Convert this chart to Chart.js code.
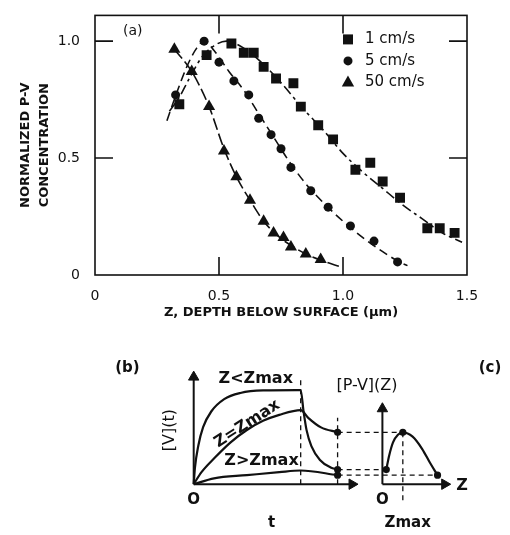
<!DOCTYPE html>
<html>
<head>
<meta charset="utf-8">
<script src="https://cdn.jsdelivr.net/npm/chart.js@4.4.1/dist/chart.umd.min.js"></script>
<style>
  html, body { margin: 0; padding: 0; background: #fff; }
  #wrapTop { position: absolute; left: 0; top: 0; width: 510px; height: 330px; }
  #wrapBottom { position: absolute; left: 0; top: 330px; width: 510px; height: 205px; }
</style>
</head>
<body>
<div id="wrapTop"><canvas id="chartTop" width="510" height="330"></canvas></div>
<div id="wrapBottom"><canvas id="chartBottom" width="510" height="205"></canvas></div>
<script>
/* ============================================================
 * DATA (a): normalized P-V concentration vs depth
 * ============================================================ */
const SERIES = ["1 cm/s", "5 cm/s", "50 cm/s"];
const X_TICKS = [0, 0.5, 1.0, 1.5];
const Y_TICKS = [0, 0.5, 1.0];
const X_TITLE = "Z, DEPTH BELOW SURFACE (\u03bcm)";
const Y_TITLE = ["NORMALIZED P-V", "CONCENTRATION"];

// 1 cm/s (squares)
const SQ_X = [0.34, 0.45, 0.55, 0.60, 0.64, 0.68, 0.73, 0.80, 0.83, 0.90, 0.96, 1.05, 1.11, 1.16, 1.23, 1.34, 1.39, 1.45];
const SQ_Y = [0.73, 0.94, 0.99, 0.95, 0.95, 0.89, 0.84, 0.82, 0.72, 0.64, 0.58, 0.45, 0.48, 0.40, 0.33, 0.20, 0.20, 0.18];
// 5 cm/s (circles)
const CI_X = [0.325, 0.44, 0.50, 0.56, 0.62, 0.66, 0.71, 0.75, 0.79, 0.87, 0.94, 1.03, 1.125, 1.22];
const CI_Y = [0.77, 1.00, 0.91, 0.83, 0.77, 0.67, 0.60, 0.54, 0.46, 0.36, 0.29, 0.21, 0.145, 0.056];
// 50 cm/s (triangles)
const TR_X = [0.32, 0.39, 0.46, 0.52, 0.57, 0.625, 0.68, 0.72, 0.76, 0.79, 0.85, 0.91];
const TR_Y = [0.965, 0.87, 0.72, 0.53, 0.42, 0.32, 0.23, 0.18, 0.16, 0.12, 0.09, 0.066];

// fitted curves
const FIT1_X = [0.30, 0.34, 0.38, 0.43, 0.48, 0.53, 0.60, 0.68, 0.76, 0.84, 0.92, 1.00, 1.08, 1.16, 1.24, 1.32, 1.40, 1.48];
const FIT1_Y = [0.70, 0.76, 0.84, 0.93, 0.98, 1.00, 0.97, 0.90, 0.81, 0.71, 0.62, 0.52, 0.44, 0.37, 0.30, 0.24, 0.18, 0.14];
const FIT5_X = [0.29, 0.33, 0.37, 0.41, 0.44, 0.48, 0.54, 0.60, 0.66, 0.72, 0.78, 0.85, 0.92, 1.00, 1.08, 1.16, 1.22, 1.26];
const FIT5_Y = [0.66, 0.78, 0.89, 0.97, 1.00, 0.96, 0.87, 0.79, 0.69, 0.59, 0.49, 0.39, 0.31, 0.23, 0.16, 0.10, 0.06, 0.04];
const FIT50_X = [0.32, 0.39, 0.46, 0.52, 0.57, 0.625, 0.68, 0.74, 0.80, 0.86, 0.92, 0.99];
const FIT50_Y = [0.965, 0.87, 0.72, 0.54, 0.42, 0.32, 0.23, 0.165, 0.12, 0.085, 0.06, 0.035];

/* ============================================================
 * DATA (b)/(c): schematic, arbitrary units
 * ============================================================ */
const T_LT = [0, 0.012, 0.043, 0.088, 0.164, 0.285, 0.436, 0.648, 0.966, 1.0, 1.027, 1.055, 1.10, 1.18, 1.28, 1.345];
const V_LT = [0, 0.176, 0.405, 0.60, 0.765, 0.895, 0.96, 0.987, 0.99, 0.99, 0.765, 0.569, 0.40, 0.255, 0.176, 0.154];
const T_EQ = [0, 0.073, 0.194, 0.345, 0.497, 0.648, 0.80, 1.0, 1.073, 1.19, 1.345];
const V_EQ = [0, 0.127, 0.275, 0.44, 0.57, 0.667, 0.73, 0.78, 0.696, 0.598, 0.546];
const T_GT = [0, 0.19, 0.497, 0.80, 1.0, 1.345];
const V_GT = [0, 0.062, 0.095, 0.127, 0.144, 0.095];
const Z_C = [0.19, 0.33, 0.52, 0.76, 1.0, 1.48, 1.95, 2.33, 2.70];
const V_C = [0.154, 0.30, 0.44, 0.52, 0.546, 0.50, 0.37, 0.225, 0.095];

const T_PULSE = 1.0;     // end of pulse
const T_READ = 1.345;    // read-out time
const READ_Z = -2.19;    // read-out line in (c) units
const READ_V = [0.546, 0.154, 0.095];
const READ_Z_END = [1.0, 0.19, 2.70];

const INK = "#111";
const FONT = "'DejaVu Sans', 'Liberation Sans', sans-serif";

const pts = (xs, ys) => xs.map((x, i) => ({ x, y: ys[i] }));
const fmtTick = (v) => (v === 0 ? "0" : Number(v).toFixed(1));

/* ============================================================
 * (a) plugins: frame with inward ticks, legend, panel label
 * ============================================================ */
const frameTicks = {
  id: "frameTicks",
  afterDraw(chart) {
    const { ctx, chartArea: a, scales } = chart;
    const len = 18;
    ctx.save();
    ctx.strokeStyle = INK;
    ctx.lineWidth = 1.6;
    ctx.strokeRect(a.left, a.top, a.right - a.left, a.bottom - a.top);
    ctx.beginPath();
    X_TICKS.slice(1, -1).forEach((v) => {
      const px = scales.x.getPixelForValue(v);
      ctx.moveTo(px, a.bottom); ctx.lineTo(px, a.bottom - len);
      ctx.moveTo(px, a.top); ctx.lineTo(px, a.top + len);
    });
    Y_TICKS.slice(1).forEach((v) => {
      const py = scales.y.getPixelForValue(v);
      ctx.moveTo(a.left, py); ctx.lineTo(a.left + len, py);
      ctx.moveTo(a.right, py); ctx.lineTo(a.right - len, py);
    });
    ctx.stroke();

    // panel label
    ctx.fillStyle = INK;
    ctx.font = "14px " + FONT;
    ctx.textBaseline = "middle";
    ctx.fillText("(a)", a.left + 28, a.top + 16);
    ctx.restore();
  },
};

function drawMarker(ctx, style, x, y) {
  ctx.beginPath();
  if (style === "rect") {
    ctx.rect(x - 5, y - 5, 10, 10);
  } else if (style === "circle") {
    ctx.arc(x, y, 4.5, 0, Math.PI * 2);
  } else {
    ctx.moveTo(x, y - 7);
    ctx.lineTo(x + 6.2, y + 4);
    ctx.lineTo(x - 6.2, y + 4);
    ctx.closePath();
  }
  ctx.fill();
}

const legendInside = {
  id: "legendInside",
  afterDraw(chart) {
    const { ctx, chartArea: a } = chart;
    const styles = ["rect", "circle", "triangle"];
    ctx.save();
    ctx.fillStyle = INK;
    ctx.font = "15px " + FONT;
    ctx.textBaseline = "middle";
    SERIES.forEach((s, i) => {
      const y = a.top + 24 + i * 21.5;
      drawMarker(ctx, styles[i], a.left + 253, y);
      ctx.fillText(s, a.left + 270, y);
    });
    ctx.restore();
  },
};

const markerSet = (label, xs, ys, style, r) => ({
  label, data: pts(xs, ys), pointStyle: style, pointRadius: r,
  backgroundColor: INK, borderColor: INK, borderWidth: 0, showLine: false,
});
const fitSet = (xs, ys, dash) => ({
  label: "fit", data: pts(xs, ys), showLine: true, pointRadius: 0,
  borderColor: INK, borderWidth: 1.6, borderDash: dash,
  cubicInterpolationMode: "monotone", fill: false,
});

new Chart(document.getElementById("chartTop"), {
  type: "scatter",
  data: {
    datasets: [
      markerSet(SERIES[0], SQ_X, SQ_Y, "rect", 7),
      markerSet(SERIES[1], CI_X, CI_Y, "circle", 4.5),
      markerSet(SERIES[2], TR_X, TR_Y, "triangle", 7),
      fitSet(FIT1_X, FIT1_Y, [10, 4, 3, 4]),
      fitSet(FIT5_X, FIT5_Y, [9, 5]),
      fitSet(FIT50_X, FIT50_Y, [12, 4]),
    ],
  },
  options: {
    responsive: false,
    animation: false,
    layout: { padding: { top: 13, right: 43, bottom: 10, left: 0 } },
    plugins: { legend: { display: false }, tooltip: { enabled: false } },
    scales: {
      x: {
        type: "linear", min: 0, max: 1.5,
        grid: { display: false }, border: { display: false },
        afterBuildTicks: (s) => { s.ticks = X_TICKS.map((v) => ({ value: v })); },
        afterFit: (s) => { s.height = 45; },
        ticks: { color: INK, font: { family: FONT, size: 14 }, padding: 5, maxRotation: 0, callback: fmtTick },
        title: { display: true, text: X_TITLE, color: INK, font: { family: FONT, size: 13, weight: "bold" }, padding: { top: 0, bottom: 0 } },
      },
      y: {
        type: "linear", min: 0, max: 1.11,
        grid: { display: false }, border: { display: false },
        afterBuildTicks: (s) => { s.ticks = Y_TICKS.map((v) => ({ value: v })); },
        afterFit: (s) => { s.width = 95; },
        ticks: { color: INK, font: { family: FONT, size: 14 }, padding: 7, callback: fmtTick },
        title: { display: true, text: Y_TITLE, color: INK, font: { family: FONT, size: 13, weight: "bold", lineHeight: 1.4 }, padding: { top: 17, bottom: 0 } },
      },
    },
  },
  plugins: [frameTicks, legendInside],
});

/* ============================================================
 * (b)/(c) schematic
 * ============================================================ */
const schematicText = {
  id: "schematicText",
  afterDraw(chart) {
    const { ctx, scales } = chart;
    const labels = [
      { t: "(b)", x: -0.62, y: 1.225, ax: "x", f: "bold 15px" },
      { t: "(c)", x: 2.77, y: 1.225, ax: "x", f: "bold 15px" },
      { t: "Z<Zmax", x: 0.58, y: 1.108, ax: "x", f: "bold 16px" },
      { t: "[P-V](Z)", x: 1.62, y: 1.04, ax: "x", f: "16px" },
      { t: "Z=Zmax", x: 0.50, y: 0.634, ax: "x", f: "bold 16px", rot: -33 },
      { t: "Z>Zmax", x: 0.634, y: 0.242, ax: "x", f: "bold 16px" },
      { t: "[V](t)", x: -0.227, y: 0.569, ax: "x", f: "16px", rot: -90 },
      { t: "O", x: 0, y: -0.167, ax: "x", f: "bold 15px" },
      { t: "t", x: 0.727, y: -0.41, ax: "x", f: "bold 15px" },
      { t: "O", x: 0, y: -0.167, ax: "xc", f: "bold 15px" },
      { t: "Z", x: 3.9, y: -0.02, ax: "xc", f: "bold 16px" },
      { t: "Zmax", x: 1.24, y: -0.41, ax: "xc", f: "bold 15px" },
    ];
    ctx.save();
    ctx.fillStyle = INK;
    ctx.textAlign = "center";
    ctx.textBaseline = "middle";
    labels.forEach((l) => {
      const px = scales[l.ax].getPixelForValue(l.x);
      const py = scales.y.getPixelForValue(l.y);
      ctx.save();
      ctx.translate(px, py);
      if (l.rot) ctx.rotate((l.rot * Math.PI) / 180);
      ctx.font = l.f + " " + FONT;
      ctx.fillText(l.t, 0, 0);
      ctx.restore();
    });
    ctx.restore();
  },
};

const solid = (data, extra) => Object.assign({
  data, showLine: true, pointRadius: 0, borderColor: INK, backgroundColor: INK,
  borderWidth: 2.2, fill: false,
}, extra);
const dashed = (data, extra) => solid(data, Object.assign({ borderWidth: 1.3, borderDash: [5, 4] }, extra));
const arrow = (data, rot, extra) => solid(data, Object.assign({
  borderWidth: 2, pointRadius: [0, 6], pointStyle: "triangle", rotation: [0, rot], pointBorderWidth: 1,
}, extra));

new Chart(document.getElementById("chartBottom"), {
  type: "scatter",
  data: {
    datasets: [
      // axes (b)
      arrow([{ x: 0, y: 0 }, { x: 1.48, y: 0 }], 90),
      arrow([{ x: 0, y: 0 }, { x: 0, y: 1.127 }], 0),
      // curves (b)
      solid(pts(T_LT, V_LT), { cubicInterpolationMode: "monotone" }),
      solid(pts(T_EQ, V_EQ), { cubicInterpolationMode: "monotone" }),
      solid(pts(T_GT, V_GT), { cubicInterpolationMode: "monotone" }),
      // guides (b)
      dashed([{ x: T_PULSE, y: 0 }, { x: T_PULSE, y: 1.127 }]),
      dashed([{ x: T_READ, y: 0 }, { x: T_READ, y: 0.70 }]),
      solid(READ_V.map((v) => ({ x: T_READ, y: v })), { showLine: false, pointRadius: 2.5 }),
      // axes (c)
      arrow([{ x: 0, y: 0 }, { x: 3.05, y: 0 }], 90, { xAxisID: "xc" }),
      arrow([{ x: 0, y: 0 }, { x: 0, y: 0.794 }], 0, { xAxisID: "xc" }),
      // curve (c)
      solid(pts(Z_C, V_C), { xAxisID: "xc", cubicInterpolationMode: "monotone" }),
      solid(READ_Z_END.map((z, i) => ({ x: z, y: READ_V[i] })), { xAxisID: "xc", showLine: false, pointRadius: 2.5 }),
      // connectors and Zmax guide
      ...READ_V.map((v, i) => dashed([{ x: READ_Z, y: v }, { x: READ_Z_END[i], y: v }], { xAxisID: "xc" })),
      dashed([{ x: 1.0, y: 0.546 }, { x: 1.0, y: -0.186 }], { xAxisID: "xc" }),
    ],
  },
  options: {
    responsive: false,
    animation: false,
    layout: { padding: 0 },
    plugins: { legend: { display: false }, tooltip: { enabled: false } },
    scales: {
      x: { type: "linear", display: false, min: -1.745, max: 2.891 },
      y: { type: "linear", display: false, min: -0.461, max: 1.549 },
      xc: { type: "linear", axis: "x", position: "bottom", display: false, min: -18.381, max: 5.905 },
    },
  },
  plugins: [schematicText],
});
</script>
</body>
</html>
